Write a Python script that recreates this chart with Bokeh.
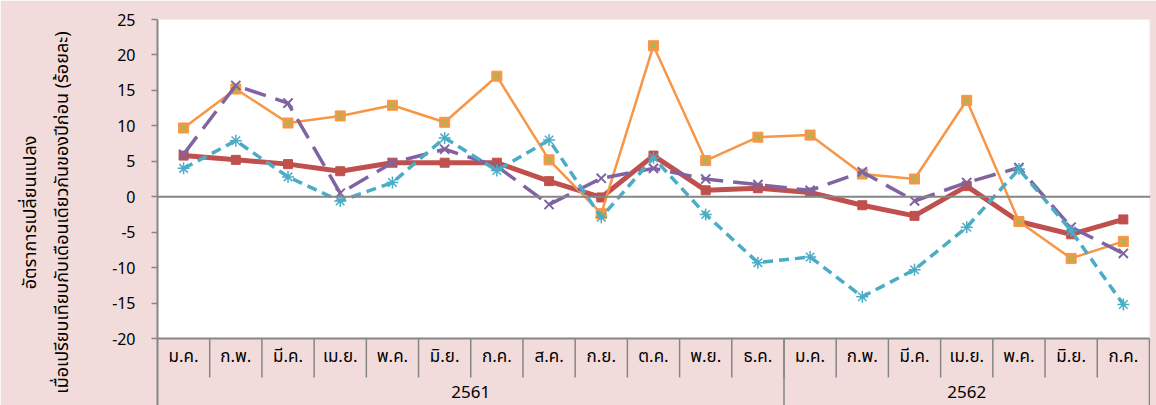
from bokeh.plotting import figure
from bokeh.models import Range1d, FixedTicker, Span
from bokeh.core.properties import value
from bokeh.embed import file_html
from bokeh.resources import INLINE

# ---------------- data ----------------
months = ["ม.ค.", "ก.พ.", "มี.ค.", "เม.ย.", "พ.ค.", "มิ.ย.", "ก.ค.", "ส.ค.", "ก.ย.", "ต.ค.", "พ.ย.", "ธ.ค.",
          "ม.ค.", "ก.พ.", "มี.ค.", "เม.ย.", "พ.ค.", "มิ.ย.", "ก.ค."]
years = ["2561", "2562"]
year_counts = [12, 7]

red_vals = [5.8, 5.2, 4.6, 3.6, 4.8, 4.8, 4.8, 2.2, -0.1, 5.8, 0.9, 1.2, 0.6, -1.2, -2.7, 1.5, -3.5, -5.3, -3.2]
orange_vals = [9.7, 15.2, 10.4, 11.4, 12.9, 10.5, 17.0, 5.2, -2.4, 21.3, 5.1, 8.4, 8.7, 3.2, 2.5, 13.6, -3.5, -8.7, -6.3]
purple_vals = [6.0, 15.7, 13.2, 0.5, 4.8, 6.7, 4.3, -1.1, 2.6, 4.0, 2.5, 1.7, 0.9, 3.5, -0.6, 2.0, 4.1, -4.3, -8.0]
teal_vals = [4.0, 7.9, 2.8, -0.6, 2.0, 8.3, 3.7, 8.0, -2.9, 5.5, -2.5, -9.3, -8.5, -14.1, -10.3, -4.3, 3.9, -4.8, -15.2]

y_ticks = [-20, -15, -10, -5, 0, 5, 10, 15, 20, 25]
y_label = "อัตราการเปลี่ยนแปลง\nเมื่อเปรียบเทียบกับเดือนเดียวกันของปีก่อน (ร้อยละ)"

# ---------------- style ----------------
PINK = "#F2DCDB"
GRAY = "#868686"
RED = "#C0504D"
ORANGE = "#F79646"
PURPLE = "#8064A2"
TEAL = "#4BACC6"
GREEN = "#9BBB59"
FONT = "Tahoma, 'Noto Sans Thai', 'Loma', 'Garuda', 'DejaVu Sans', sans-serif"

n = len(months)
x = [i + 0.5 for i in range(n)]
y_top = max(y_ticks)
y_plot_bottom = min(y_ticks)
y_frame_bottom = -29.45     # frame extends below the plot area to hold the category rows
month_row_y = -22.6
month_sep_bottom = -25.5
year_row_y = -27.6

p = figure(width=1156, height=405, output_backend="svg", toolbar_location=None,
           x_range=Range1d(0, n + 0.02), y_range=Range1d(y_frame_bottom, y_top),
           x_axis_type=None,
           min_border_left=157, min_border_right=6, min_border_top=19, min_border_bottom=0)
p.background_fill_color = PINK
p.border_fill_color = PINK
p.outline_line_color = None
p.grid.visible = False

# white plotting area
p.quad(left=[0], right=[n], bottom=[y_plot_bottom], top=[y_top], fill_color="white", line_color=None)

# zero line and bottom line of plot area
p.add_layout(Span(location=0, dimension="width", line_color=GRAY, line_width=2))
p.segment(x0=[0], x1=[n], y0=[y_plot_bottom], y1=[y_plot_bottom], line_color=GRAY, line_width=2)

# y axis
ax = p.yaxis[0]
ax.ticker = FixedTicker(ticks=y_ticks)
ax.axis_line_color = GRAY
ax.axis_line_width = 2
ax.major_tick_line_color = GRAY
ax.major_tick_line_width = 1.5
ax.major_tick_out = 6
ax.major_tick_in = 0
ax.minor_tick_line_color = None
ax.major_label_text_font = FONT
ax.major_label_text_font_size = "16px"
ax.major_label_text_color = "#000000"
ax.major_label_standoff = 16
ax.axis_label = y_label
ax.axis_label_text_font = FONT
ax.axis_label_text_font_size = "18px"
ax.axis_label_text_font_style = "normal"
ax.axis_label_text_color = "#000000"
ax.axis_label_standoff = 33

# category separators
p.segment(x0=list(range(1, n)), x1=list(range(1, n)),
          y0=[y_plot_bottom] * (n - 1), y1=[month_sep_bottom] * (n - 1),
          line_color=GRAY, line_width=1.5)
bounds = [0]
for c in year_counts:
    bounds.append(bounds[-1] + c)
p.segment(x0=bounds[1:], x1=bounds[1:], y0=[y_plot_bottom] * len(bounds[1:]),
          y1=[y_frame_bottom] * len(bounds[1:]), line_color=GRAY, line_width=1.5)

# category labels
p.text(x=x, y=[month_row_y] * n, text=months, text_align="center", text_baseline="middle",
       text_font=value(FONT), text_font_size="17px", text_color="#000000")
year_x = [(bounds[i] + bounds[i + 1]) / 2 for i in range(len(years))]
p.text(x=year_x, y=[year_row_y] * len(years), text=years, text_align="center", text_baseline="middle",
       text_font=value(FONT), text_font_size="17px", text_color="#000000")

# series
p.line(x, red_vals, line_color=RED, line_width=5)
p.scatter(x, red_vals, marker="square", size=9, fill_color=RED, line_color=RED)

p.line(x, orange_vals, line_color=ORANGE, line_width=2.5)
p.scatter(x, orange_vals, marker="square", size=10, fill_color=ORANGE, line_color=ORANGE)
p.scatter(x, orange_vals, marker="x", size=8, line_color=GREEN, line_width=1.5)

p.line(x, purple_vals, line_color=PURPLE, line_width=3.5, line_dash="22 10")
p.scatter(x, purple_vals, marker="x", size=13, line_color=PURPLE, line_width=2)

p.line(x, teal_vals, line_color=TEAL, line_width=3.5, line_dash="10 6")
p.scatter(x, teal_vals, marker="asterisk", size=12, line_color=TEAL, line_width=1.5)

open("out.html", "w").write(file_html(p, INLINE))
